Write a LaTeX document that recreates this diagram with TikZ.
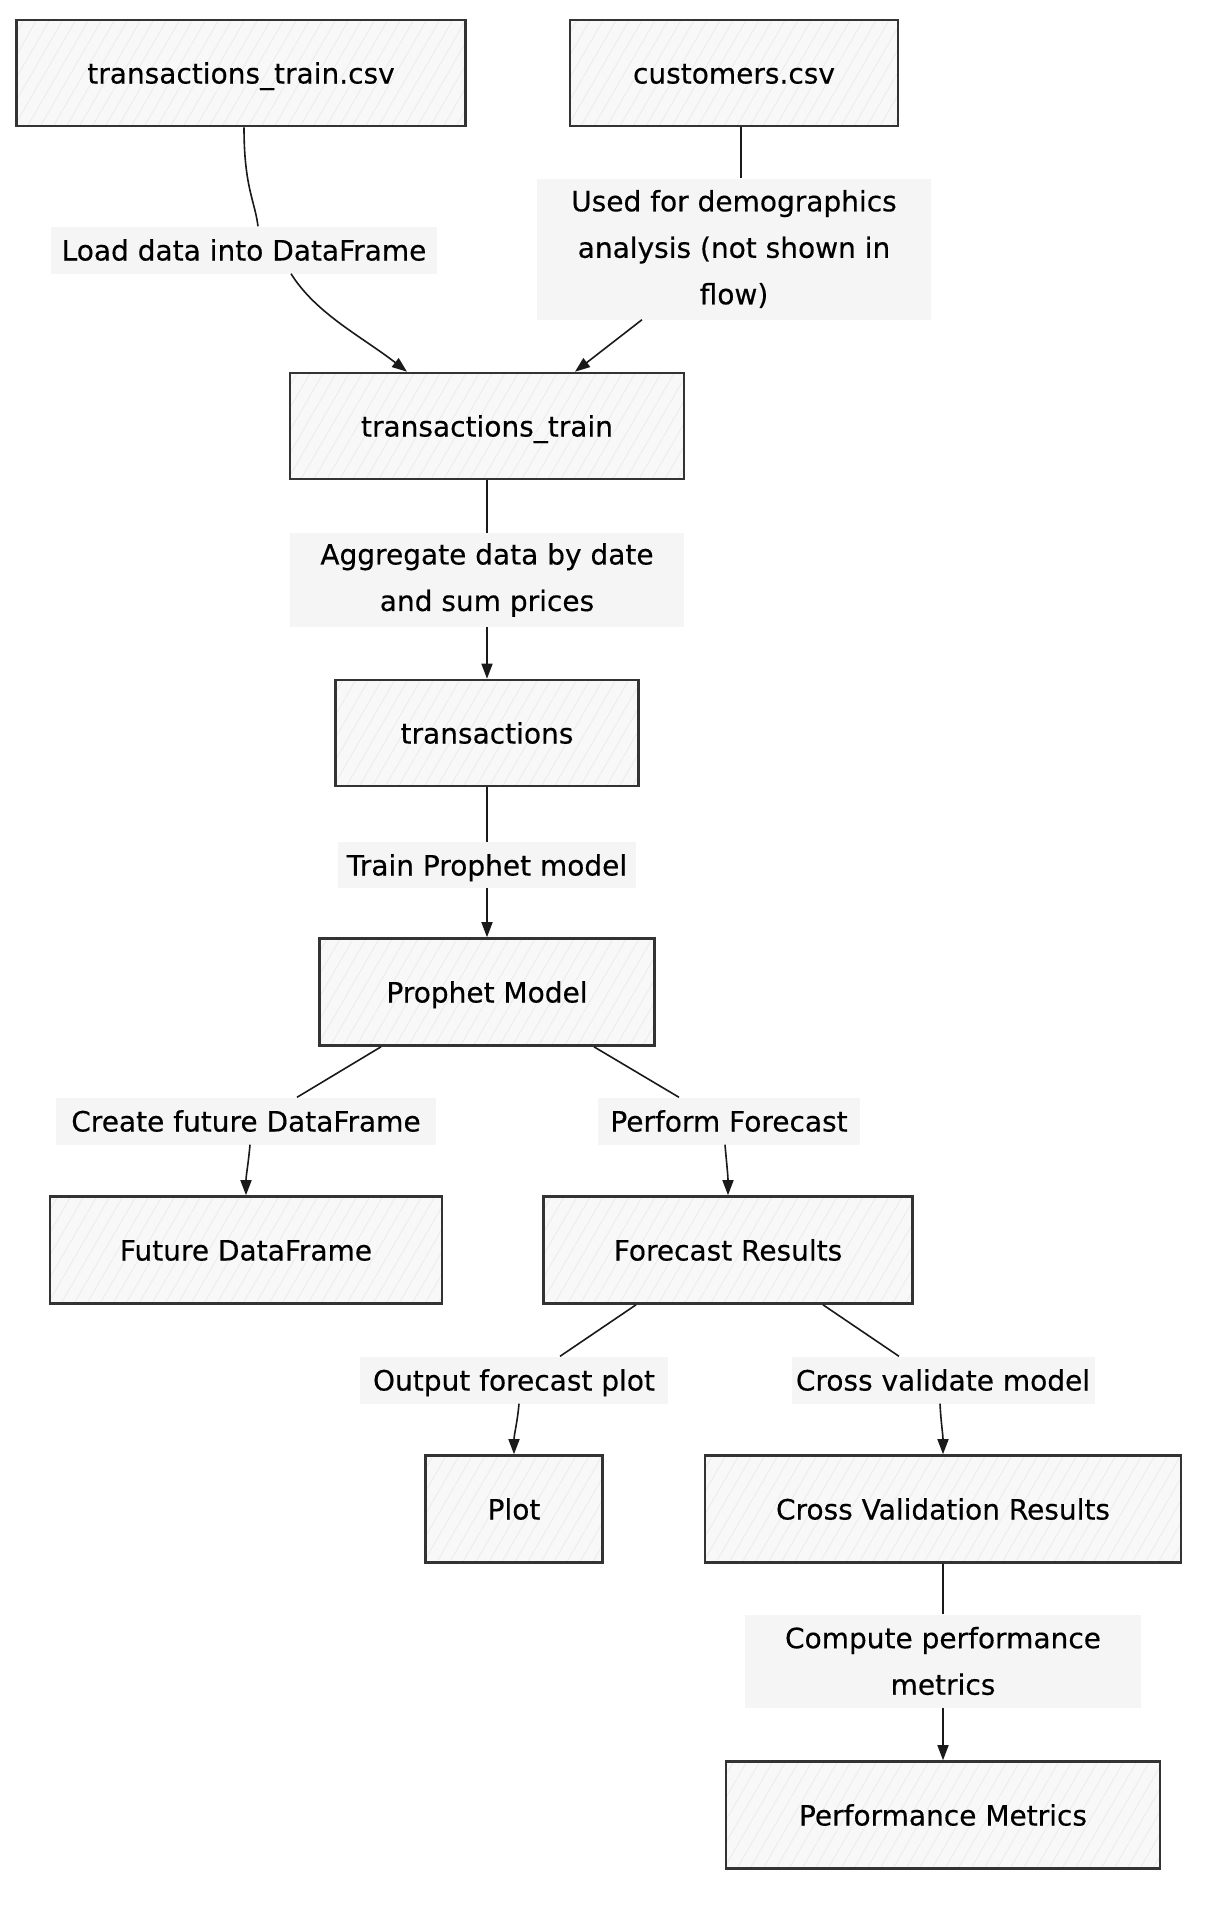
\documentclass[tikz,border=0pt]{standalone}
\usepackage{fontspec}
\setmainfont[FakeBold=0.4]{DejaVu Sans}
\usetikzlibrary{arrows.meta,calc}
\definecolor{boxfill}{HTML}{F8F8F8}
\definecolor{boxline}{HTML}{333333}
\definecolor{hatchcol}{HTML}{EBEBEB}
\definecolor{lblfill}{HTML}{F5F5F5}
\definecolor{edgecol}{HTML}{1A1A1A}
\begin{document}
\begin{tikzpicture}[x=1pt,y=1pt,
  box/.style={draw=boxline, line width=2.6pt, fill=boxfill, rectangle, inner sep=0pt,
    font=\fontsize{28}{47}\selectfont, align=center, text height=21pt, text depth=0pt,
    path picture={\foreach \k in {-80,-67,...,500} {\draw[hatchcol, line width=0.8pt] ($(path picture bounding box.south west)+(\k,0)$) -- ++(60:140);}}},
  lbl/.style={fill=lblfill, rectangle, inner sep=0pt, font=\fontsize{28}{46.5}\selectfont, align=center},
  lblone/.style={lbl, text height=21pt, text depth=0pt},
  edge/.style={draw=edgecol, line width=1.6pt},
  arr/.style={edge, -{Triangle[length=15pt,width=11pt]}}]
\useasboundingbox (0,0) rectangle (1214,-1912);
\fill[white] (0,0) rectangle (1214,-1912);

% boxes
\node[box, minimum width=449pt, minimum height=106pt] (ttc) at (241,-73) {transactions\_train.csv};
\node[box, minimum width=328pt, minimum height=106pt] (cus) at (734,-73) {customers.csv};
\node[box, minimum width=394pt, minimum height=106pt] (tt) at (487,-426) {transactions\_train};
\node[box, minimum width=303pt, minimum height=106pt] (tr) at (487,-733) {transactions};
\node[box, minimum width=335pt, minimum height=107pt] (pm) at (487,-992) {Prophet Model};
\node[box, minimum width=392pt, minimum height=107pt] (fdf) at (246,-1250) {Future DataFrame};
\node[box, minimum width=369pt, minimum height=107pt] (fr) at (728,-1250) {Forecast Results};
\node[box, minimum width=177pt, minimum height=107pt] (plot) at (514,-1509) {Plot};
\node[box, minimum width=476pt, minimum height=107pt] (cvr) at (943,-1509) {Cross Validation Results};
\node[box, minimum width=434pt, minimum height=107pt] (pmx) at (943,-1815) {Performance Metrics};

% labels
\node[lblone, minimum width=386pt, minimum height=47pt] (L1) at (244,-250) {Load data into DataFrame};
\node[lbl, minimum width=394pt, minimum height=141pt] (L2) at (734,-249) {Used for demographics\\analysis (not shown in\\flow)};
\node[lbl, minimum width=394pt, minimum height=94pt] (L3) at (487,-580) {Aggregate data by date\\and sum prices};
\node[lblone, minimum width=298pt, minimum height=46pt] (L4) at (487,-865) {Train Prophet model};
\node[lblone, minimum width=380pt, minimum height=47pt] (L5) at (246,-1121) {Create future DataFrame};
\node[lblone, minimum width=262pt, minimum height=47pt] (L6) at (729,-1121) {Perform Forecast};
\node[lblone, minimum width=308pt, minimum height=47pt] (L7) at (514,-1380) {Output forecast plot};
\node[lblone, minimum width=303pt, minimum height=47pt] (L8) at (943,-1380) {Cross validate model};
\node[lbl, minimum width=396pt, minimum height=93pt] (L9) at (943,-1661) {Compute performance\\metrics};

% edges
\draw[edge] ($(ttc.south)+(3,0)$) .. controls +(0,-60) and +(-3,25) .. ($(L1.north)+(14,0)$);
\draw[arr] ($(L1.south)+(47,0)$) .. controls +(25,-40) and +(-45,35) .. ($(tt.north)+(-80,0)$);
\draw[edge] ($(cus.south)+(7,0)$) -- ($(L2.north)+(7,0)$);
\draw[arr] ($(L2.south)+(-92,0)$) -- ($(tt.north)+(88,0)$);
\draw[edge] (tt.south) -- (L3.north);
\draw[arr] (L3.south) -- (tr.north);
\draw[edge] (tr.south) -- (L4.north);
\draw[arr] (L4.south) -- (pm.north);
\draw[edge] ($(pm.south)+(-106,0)$) -- ($(L5.north)+(51,0)$);
\draw[arr] ($(L5.south)+(4,0)$) to[out=-95,in=90] (fdf.north);
\draw[edge] ($(pm.south)+(107,0)$) -- ($(L6.north)+(-50,0)$);
\draw[arr] ($(L6.south)+(-4,0)$) to[out=-85,in=90] (fr.north);
\draw[edge] ($(fr.south)+(-92,0)$) -- ($(L7.north)+(46,0)$);
\draw[arr] ($(L7.south)+(5,0)$) to[out=-95,in=90] (plot.north);
\draw[edge] ($(fr.south)+(95,0)$) -- ($(L8.north)+(-44,0)$);
\draw[arr] ($(L8.south)+(-3,0)$) to[out=-87,in=90] (cvr.north);
\draw[edge] (cvr.south) -- (L9.north);
\draw[arr] (L9.south) -- (pmx.north);
\end{tikzpicture}
\end{document}
